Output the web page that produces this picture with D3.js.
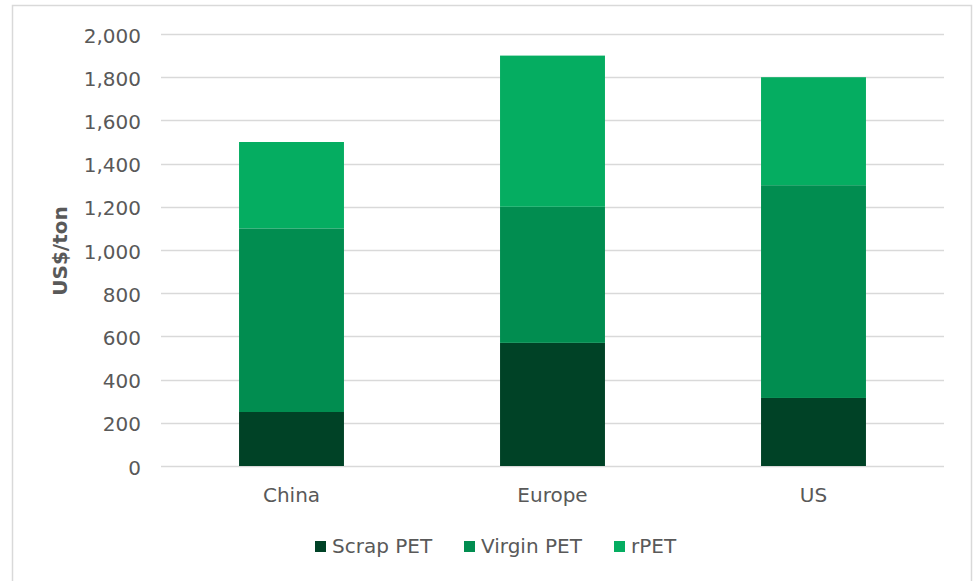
<!DOCTYPE html>
<html>
<head>
<meta charset="utf-8">
<script src="https://cdn.jsdelivr.net/npm/d3@7"></script>
<style>
  html, body { margin: 0; padding: 0; background: #fff; }
  svg { display: block; font-family: "DejaVu Sans", Verdana, sans-serif; }
</style>
</head>
<body>
<svg id="chart" width="975" height="581"></svg>
<script>
// Prices by region, US$/ton, stacked by feedstock
const regions = ["China", "Europe", "US"];
const seriesNames = ["Scrap PET", "Virgin PET", "rPET"];
const scrapPET = [250, 570, 315];
const virginPET = [850, 630, 985];
const rPET = [400, 700, 500];
const yTicks = [0, 200, 400, 600, 800, 1000, 1200, 1400, 1600, 1800, 2000];
const colors = ["#004226", "#018d50", "#05ad61"];

const rows = regions.map((r, i) => ({
  region: r,
  "Scrap PET": scrapPET[i],
  "Virgin PET": virginPET[i],
  "rPET": rPET[i]
}));

const svg = d3.select("#chart");
const W = 975, H = 581;
const margin = { left: 161, right: 31, top: 34, bottom: 115 };
const fontFamily = "DejaVu Sans, Verdana, sans-serif";

// outer frame
svg.append("rect")
  .attr("x", 12.5).attr("y", 5.5)
  .attr("width", 959).attr("height", 580)
  .attr("fill", "#fff").attr("stroke", "#d9d9d9").attr("stroke-width", 1.5);

const x = d3.scaleBand()
  .domain(regions)
  .range([margin.left, W - margin.right])
  .paddingInner(0.598).paddingOuter(0.299);

const y = d3.scaleLinear()
  .domain([0, 2000])
  .range([H - margin.bottom, margin.top]);

// gridlines
svg.append("g")
  .selectAll("line")
  .data(yTicks)
  .join("line")
  .attr("x1", margin.left).attr("x2", W - margin.right)
  .attr("y1", d => Math.round(y(d)) + 0.5).attr("y2", d => Math.round(y(d)) + 0.5)
  .attr("stroke", "#d9d9d9").attr("stroke-width", 1.5);

// y axis labels
const yAxis = d3.axisLeft(y).tickValues(yTicks).tickFormat(d3.format(",")).tickSize(0).tickPadding(20);
const gy = svg.append("g").attr("transform", `translate(${margin.left},0)`).call(yAxis);
gy.select(".domain").remove();
gy.selectAll("text")
  .attr("fill", "#595959")
  .attr("dy", "0.4em")
  .attr("font-family", fontFamily)
  .style("font-size", "20px");

// stacked bars
const stack = d3.stack().keys(seriesNames);
const layers = stack(rows);
svg.append("g")
  .selectAll("g")
  .data(layers)
  .join("g")
  .attr("fill", (d, i) => colors[i])
  .selectAll("rect")
  .data(d => d)
  .join("rect")
  .attr("x", d => x(d.data.region))
  .attr("width", x.bandwidth())
  .attr("y", d => y(d[1]))
  .attr("height", d => y(d[0]) - y(d[1]));

// x axis labels
const xAxis = d3.axisBottom(x).tickSize(0).tickPadding(22);
const gx = svg.append("g").attr("transform", `translate(0,${H - margin.bottom})`).call(xAxis);
gx.select(".domain").remove();
gx.selectAll("text")
  .attr("fill", "#595959")
  .attr("font-family", fontFamily)
  .style("font-size", "20px");

// y axis title
svg.append("text")
  .attr("transform", `translate(67,${(y(0) + y(2000)) / 2 + 1}) rotate(-90)`)
  .attr("text-anchor", "middle")
  .attr("fill", "#595959")
  .attr("font-weight", "bold")
  .style("font-size", "20px")
  .text("US$/ton");

// legend
const legendItems = [
  { name: "Scrap PET", x: 315 },
  { name: "Virgin PET", x: 464 },
  { name: "rPET", x: 614 }
];
const lg = svg.append("g");
legendItems.forEach((it, i) => {
  lg.append("rect")
    .attr("x", it.x).attr("y", 541)
    .attr("width", 11).attr("height", 11)
    .attr("fill", colors[i]);
  lg.append("text")
    .attr("x", it.x + 17).attr("y", 553)
    .attr("fill", "#595959")
    .style("font-size", "20px")
    .text(it.name);
});
</script>
</body>
</html>
